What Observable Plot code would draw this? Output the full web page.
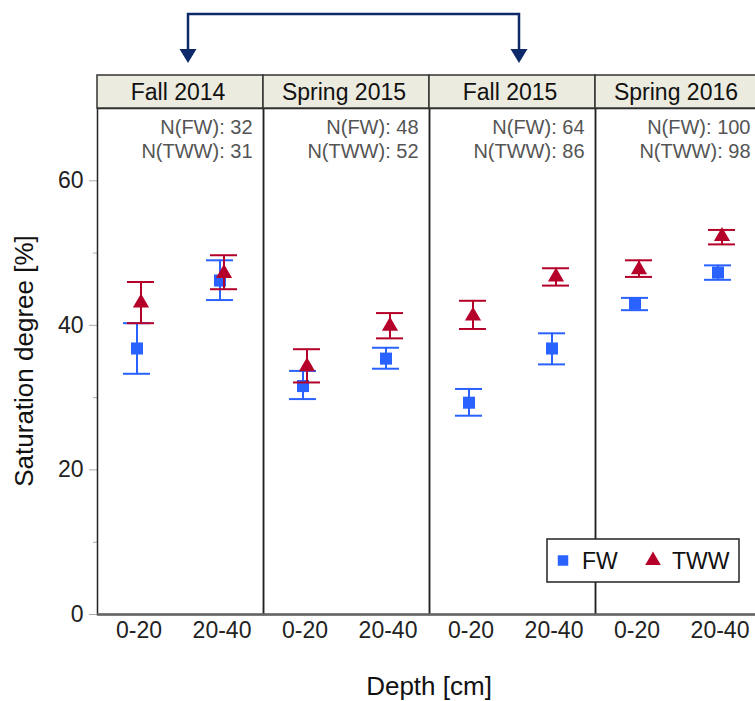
<!DOCTYPE html>
<html>
<head>
<meta charset="utf-8">
<script src="https://cdn.jsdelivr.net/npm/d3@7"></script>
<script src="https://cdn.jsdelivr.net/npm/@observablehq/plot@0.6"></script>
<style>
  html, body { margin: 0; padding: 0; background: #fff; overflow: hidden; }
  #chart svg { display: block; max-width: none !important; }
</style>
</head>
<body>
<div id="chart"></div>
<script>
// Sampling campaigns (facets) and soil depth classes
const seasons = ["Fall 2014", "Spring 2015", "Fall 2015", "Spring 2016"];
const depths = ["0-20", "20-40"];
const series = ["FW", "TWW"];
const seriesColors = ["#2962FF", "#B5002A"];

// Number of samples per campaign
const nFW = [32, 48, 64, 100];
const nTWW = [31, 52, 86, 98];

// Mean saturation degree [%] and error-bar limits, ordered season by season, 0-20 then 20-40
const fwMean = [36.8, 46.2, 31.6, 35.4, 29.3, 36.8, 43.0, 47.3];
const fwLow  = [33.3, 43.5, 29.8, 34.0, 27.5, 34.6, 42.1, 46.3];
const fwHigh = [40.3, 49.0, 33.7, 36.9, 31.2, 38.9, 43.8, 48.3];
const twwMean = [43.1, 47.2, 34.3, 39.9, 41.3, 46.7, 47.7, 52.3];
const twwLow  = [40.3, 45.0, 32.1, 38.2, 39.5, 45.5, 46.7, 51.2];
const twwHigh = [46.0, 49.7, 36.7, 41.7, 43.4, 47.9, 49.0, 53.2];

const yTicks = [0, 20, 40, 60];
const yMinorTicks = [10, 30, 50];

const font = "'Liberation Sans', Arial, sans-serif";

function rows(mean, low, high) {
  return mean.map((m, i) => ({
    season: seasons[Math.floor(i / depths.length)],
    depth: depths[i % depths.length],
    mean: m, low: low[i], high: high[i]
  }));
}
const fw = rows(fwMean, fwLow, fwHigh);
const tww = rows(twwMean, twwLow, twwHigh);
const counts = seasons.map((s, i) => ({season: s, label: `N(FW): ${nFW[i]}\nN(TWW): ${nTWW[i]}`}));

function errorMarks(data, color, dx, symbol, r) {
  return [
    Plot.ruleX(data, {x: "depth", y1: "low", y2: "high", fx: "season", stroke: color, strokeWidth: 2, dx}),
    Plot.tickY(data, {x: "depth", y: "low", fx: "season", stroke: color, strokeWidth: 2, dx}),
    Plot.tickY(data, {x: "depth", y: "high", fx: "season", stroke: color, strokeWidth: 2, dx}),
    Plot.dot(data, {x: "depth", y: "mean", fx: "season", symbol, r, fill: color, stroke: "none", dx})
  ];
}

const W = 761, H = 701, mL = 97, mT = 108, mB = 87;

const plot = Plot.plot({
  width: W,
  height: H,
  marginLeft: mL,
  marginRight: 0,
  marginTop: mT,
  marginBottom: mB,
  style: {fontFamily: font, background: "white"},
  fx: {domain: seasons, padding: 0, axis: null, label: null},
  x: {domain: depths, paddingInner: 0.675, paddingOuter: 0.3375, label: null},
  y: {domain: [0, 70], label: null},
  marks: [
    Plot.axisY({ticks: yMinorTicks, tickSize: 4, tickFormat: () => "", label: null, stroke: "#aaa"}),
    Plot.axisY({ticks: yTicks, tickSize: 8, tickPadding: 6, fontSize: 23, label: null, color: "#222"}),
    Plot.axisX({tickSize: 0, tickPadding: 7, fontSize: 23, label: null, color: "#222"}),
    Plot.text(counts, {fx: "season", text: "label", frameAnchor: "top-right", dx: -11, dy: 8,
      lineAnchor: "top", lineHeight: 1.2, fontSize: 20, fill: "#555"}),
    ...errorMarks(fw, seriesColors[0], -2, "square", 6.8),
    ...errorMarks(tww, seriesColors[1], 2, "triangle", 6),
    Plot.frame({stroke: "#222", strokeWidth: 1.5}),
    Plot.ruleY([0], {stroke: "#666", strokeWidth: 2.5})
  ]
});

document.getElementById("chart").appendChild(plot);

// Facet strips, comparison arrow, legend and axis titles
const svg = d3.select(plot);
svg.selectAll("g[aria-label='y-axis tick'] path, g[aria-label='y-axis tick'] line").attr("stroke", "#aaa");

const fxs = plot.scale("fx");
const band = d3.scaleBand().domain(fxs.domain).range(fxs.range)
  .paddingInner(fxs.paddingInner || 0).paddingOuter(fxs.paddingOuter || 0);
const bw = band.bandwidth();
const yS = plot.scale("y");
const yPos = v => yS.apply ? yS.apply(v) : d3.scaleLinear(yS.domain, yS.range)(v);
const plotTop = yPos(70), plotBottom = yPos(0);
const stripH = 33;

const strips = svg.append("g");
seasons.forEach(s => {
  strips.append("rect")
    .attr("x", band(s)).attr("y", plotTop - stripH)
    .attr("width", bw).attr("height", stripH)
    .attr("fill", "#ECEBDF").attr("stroke", "#333").attr("stroke-width", 1.5);
  strips.append("text")
    .attr("x", band(s) + bw / 2 - 2).attr("y", plotTop - stripH / 2)
    .attr("dy", "0.36em").attr("text-anchor", "middle")
    .attr("font-family", font).attr("font-size", 23).attr("fill", "#111")
    .text(s);
});

// Arrow linking the two fall campaigns
const navy = "#0F2A6B";
const a1 = band(seasons[0]) + bw / 2 + 8;
const a2 = band(seasons[2]) + bw / 2 + 7;
const lineY = 14, tipY = plotTop - stripH - 12, headH = 14, headW = 17;
const arrow = svg.append("g").attr("fill", "none").attr("stroke", navy).attr("stroke-width", 2.5);
arrow.append("path").attr("d", `M${a1},${tipY - headH} V${lineY} H${a2} V${tipY - headH}`);
[a1, a2].forEach(ax => {
  svg.append("path")
    .attr("d", `M${ax - headW / 2},${tipY - headH} L${ax + headW / 2},${tipY - headH} L${ax},${tipY} Z`)
    .attr("fill", navy);
});

// Legend
const lgW = 192, lgH = 43;
const lgX = W - 22 - lgW, lgY = plotBottom - 32 - lgH;
const lg = svg.append("g").attr("transform", `translate(${lgX},${lgY})`);
lg.append("rect").attr("width", lgW).attr("height", lgH)
  .attr("fill", "white").attr("stroke", "#222").attr("stroke-width", 1.5);
const lgSymbols = [d3.symbolSquare, d3.symbolTriangle];
const lgOffsets = [16, 106];
series.forEach((name, i) => {
  lg.append("path")
    .attr("transform", `translate(${lgOffsets[i]},${lgH / 2})`)
    .attr("d", d3.symbol(lgSymbols[i], i === 0 ? 110 : 105)())
    .attr("fill", seriesColors[i]);
  lg.append("text")
    .attr("x", lgOffsets[i] + 19).attr("y", lgH / 2).attr("dy", "0.36em")
    .attr("text-anchor", "start")
    .attr("font-family", font).attr("font-size", 23).attr("fill", "#111")
    .text(name);
});

// Axis titles
svg.append("text")
  .attr("transform", `translate(24,${(plotTop + plotBottom) / 2}) rotate(-90)`)
  .attr("dy", "0.36em").attr("text-anchor", "middle")
  .attr("font-family", font).attr("font-size", 26).attr("fill", "#111")
  .text("Saturation degree [%]");
svg.append("text")
  .attr("x", (fxs.range[0] + fxs.range[1]) / 2).attr("y", 686)
  .attr("dy", "0.36em").attr("text-anchor", "middle")
  .attr("font-family", font).attr("font-size", 26).attr("fill", "#111")
  .text("Depth [cm]");
</script>
</body>
</html>
